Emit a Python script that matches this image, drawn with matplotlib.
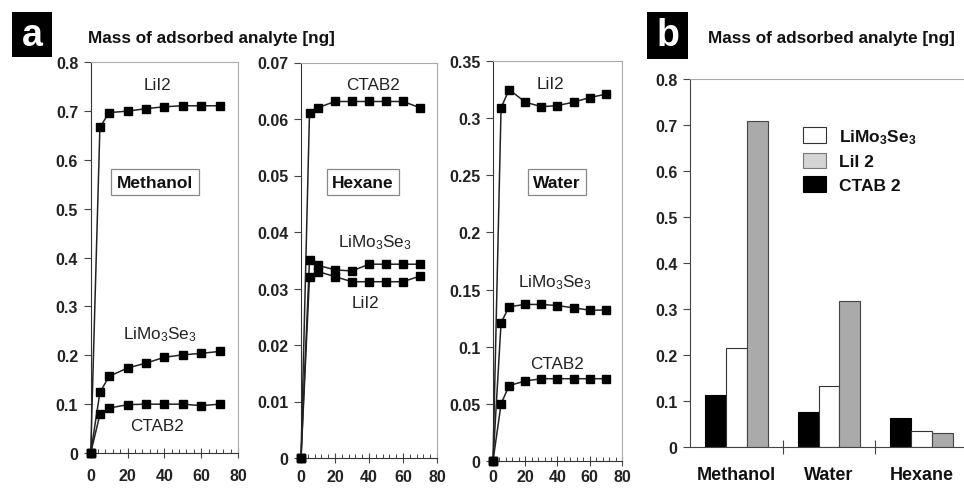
import matplotlib
matplotlib.use("Agg")
import matplotlib.pyplot as plt
from matplotlib.patches import Rectangle, Patch
from matplotlib.ticker import MultipleLocator
import numpy as np

plt.rcParams['font.family'] = ['Liberation Sans', 'DejaVu Sans']
plt.rcParams['mathtext.fontset'] = 'custom'
plt.rcParams['mathtext.rm'] = 'Liberation Sans'
plt.rcParams['mathtext.bf'] = 'Liberation Sans:bold'
plt.rcParams['mathtext.it'] = 'Liberation Sans:italic'

# time axis (same for all three solvents)
t = [0, 5, 10, 20, 30, 40, 50, 60, 70]

# Methanol
meth_lii2 = [0, 0.667, 0.697, 0.700, 0.705, 0.709, 0.711, 0.711, 0.711]
meth_limo = [0, 0.124, 0.157, 0.174, 0.184, 0.196, 0.201, 0.204, 0.208]
meth_ctab = [0, 0.079, 0.092, 0.099, 0.100, 0.100, 0.100, 0.097, 0.100]

# Hexane
hex_ctab = [0, 0.0611, 0.0620, 0.0631, 0.0631, 0.0631, 0.0631, 0.0631, 0.0620]
hex_limo = [0, 0.0351, 0.0341, 0.0333, 0.0331, 0.0343, 0.0343, 0.0343, 0.0343]
hex_lii2 = [0, 0.0321, 0.0330, 0.0321, 0.0312, 0.0312, 0.0312, 0.0312, 0.0322]

# Water
wat_lii2 = [0, 0.309, 0.325, 0.314, 0.310, 0.311, 0.314, 0.318, 0.321]
wat_limo = [0, 0.121, 0.135, 0.137, 0.137, 0.136, 0.134, 0.132, 0.132]
wat_ctab = [0, 0.050, 0.066, 0.070, 0.072, 0.072, 0.072, 0.072, 0.072]

# bar chart (panel b)
solvents = ["Methanol", "Water", "Hexane"]
bar_ctab = [0.114, 0.077, 0.064]
bar_limo = [0.216, 0.133, 0.035]
bar_lii2 = [0.709, 0.317, 0.030]

LIMO = r"LiMo$_3$Se$_3$"
W, H = 964, 489
fig = plt.figure(figsize=(W / 100, H / 100), dpi=100)


def fig_rect(l, r, top, bot):
    return [l / W, 1 - bot / H, (r - l) / W, (bot - top) / H]


def style_panel(ax, ymax, ystep, xpad):
    ax.set_xlim(0, 80)
    ax.set_ylim(0, ymax)
    ax.xaxis.set_major_locator(MultipleLocator(20))
    ax.xaxis.set_minor_locator(MultipleLocator(4))
    ax.yaxis.set_major_locator(MultipleLocator(ystep))
    ax.tick_params(axis='x', which='major', direction='inout', length=7, width=0.8,
                   pad=xpad, labelsize=11.5, color='#444444')
    ax.tick_params(axis='x', which='minor', direction='in', length=3, width=0.7, color='#444444')
    ax.tick_params(axis='y', direction='out', length=5, width=0.8, labelsize=11.5,
                   pad=4, color='#444444')
    for lab in ax.get_xticklabels() + ax.get_yticklabels():
        lab.set_fontweight('bold')
        lab.set_color('#222222')
    ax.spines['left'].set_color('#333333')
    ax.spines['bottom'].set_color('#333333')
    ax.spines['top'].set_color('#aaaaaa')
    ax.spines['right'].set_color('#aaaaaa')


def series(ax, y):
    ax.plot(t, y, color='#222222', lw=1.1, marker='s', ms=5.5, mfc='black',
            mec='black', clip_on=False, zorder=3)


box = dict(boxstyle='square,pad=0.32', fc='white', ec='#888888', lw=0.9)

# Methanol
ax1 = fig.add_axes(fig_rect(90.7, 238, 63.3, 454))
for y in (meth_lii2, meth_limo, meth_ctab):
    series(ax1, y)
style_panel(ax1, 0.8, 0.1, 7)
ax1.set_yticks(np.arange(0, 0.81, 0.1))
ax1.set_yticklabels(["0", "0.1", "0.2", "0.3", "0.4", "0.5", "0.6", "0.7", "0.8"], fontweight='bold')

# Hexane
ax2 = fig.add_axes(fig_rect(301, 437, 63.5, 459))
for y in (hex_ctab, hex_limo, hex_lii2):
    series(ax2, y)
style_panel(ax2, 0.07, 0.01, 4.5)
ax2.set_yticks(np.arange(0, 0.071, 0.01))
ax2.set_yticklabels(["0", "0.01", "0.02", "0.03", "0.04", "0.05", "0.06", "0.07"], fontweight='bold')

# Water
ax3 = fig.add_axes(fig_rect(493, 622, 62, 462))
for y in (wat_lii2, wat_limo, wat_ctab):
    series(ax3, y)
style_panel(ax3, 0.35, 0.05, 2.5)
ax3.set_yticks(np.arange(0, 0.351, 0.05))
ax3.set_yticklabels(["0", "0.05", "0.1", "0.15", "0.2", "0.25", "0.3", "0.35"], fontweight='bold')

# series labels (pixel positions from the top)
for x, y, s in [(157, 86, "LiI2"), (160, 335, LIMO), (157, 427, "CTAB2"),
                (373, 86, "CTAB2"), (375, 243, LIMO), (365, 304, "LiI2"),
                (550, 85, "LiI2"), (555, 283, LIMO), (557, 365, "CTAB2")]:
    fig.text(x / W, 1 - y / H, s, fontsize=12.3, ha='center', va='center', color='#222222')

for x, s in [(155, "Methanol"), (363, "Hexane"), (557, "Water")]:
    fig.text(x / W, 1 - 183 / H, s, fontsize=12.5, fontweight='bold', ha='center',
             va='center', color='#111111', bbox=box)

# Panel b: bars
axb = fig.add_axes(fig_rect(690, 968, 80, 448))
xpos = np.arange(len(solvents))
bw = 0.225
axb.bar(xpos - bw, bar_ctab, bw, color='black', edgecolor='black', lw=0.8)
axb.bar(xpos, bar_limo, bw, color='white', edgecolor='#333333', lw=0.8)
axb.bar(xpos + bw, bar_lii2, bw, color='#aaaaaa', edgecolor='#444444', lw=0.8)
axb.set_xlim(-0.5, 2.5)
axb.set_ylim(0, 0.8)
axb.set_yticks(np.arange(0, 0.81, 0.1))
axb.set_yticklabels(["0", "0.1", "0.2", "0.3", "0.4", "0.5", "0.6", "0.7", "0.8"], fontweight='bold')
axb.set_xticks([0.5, 1.5])
axb.set_xticklabels([])
axb.tick_params(axis='x', direction='inout', length=10, width=0.8, color='#444444')
axb.tick_params(axis='y', direction='out', length=5, width=0.8, labelsize=11.5, pad=4, color='#444444')
for lab in axb.get_yticklabels():
    lab.set_color('#222222')
for i, s in enumerate(solvents):
    axb.text(i, -0.059, s, ha='center', va='center', fontsize=13, fontweight='bold',
             color='#111111')
axb.spines['left'].set_color('#444444')
axb.spines['bottom'].set_color('#444444')
axb.spines['top'].set_color('#aaaaaa')
axb.spines['right'].set_visible(False)

handles = [Patch(fc='white', ec='#333333', lw=0.8),
           Patch(fc='#d4d4d4', ec='#777777', lw=0.8),
           Patch(fc='black', ec='black', lw=0.8)]
leg = fig.legend(handles, [r"LiMo$_\mathbf{3}$Se$_\mathbf{3}$", "LiI 2", "CTAB 2"],
                 loc='upper left', bbox_to_anchor=(803 / W, 1 - 128 / H),
                 frameon=False, prop={'weight': 'bold', 'size': 12.5},
                 handlelength=1.35, handleheight=1.0, labelspacing=0.4,
                 handletextpad=0.75, borderaxespad=0, borderpad=0)
for txt in leg.get_texts():
    txt.set_color('#111111')

# titles
fig.text(88 / W, 1 - 38 / H, "Mass of adsorbed analyte [ng]", fontsize=12.3,
         fontweight='bold', ha='left', va='center', color='#111111')
fig.text(708 / W, 1 - 38 / H, "Mass of adsorbed analyte [ng]", fontsize=12.3,
         fontweight='bold', ha='left', va='center', color='#111111')

# panel letters in black boxes
for (l, r, top, bot), s in [((12, 52, 13, 58), "a"), ((647, 688, 13, 60), "b")]:
    fig.patches.append(Rectangle((l / W, 1 - bot / H), (r - l) / W, (bot - top) / H,
                                 transform=fig.transFigure, fc='black', ec='none'))
    fig.text((l + r) / 2 / W, 1 - (top + bot) / 2 / H, s, color='white', fontsize=27,
             fontweight='bold', ha='center', va='center')

fig.savefig("out.png", dpi=100, facecolor='white')
